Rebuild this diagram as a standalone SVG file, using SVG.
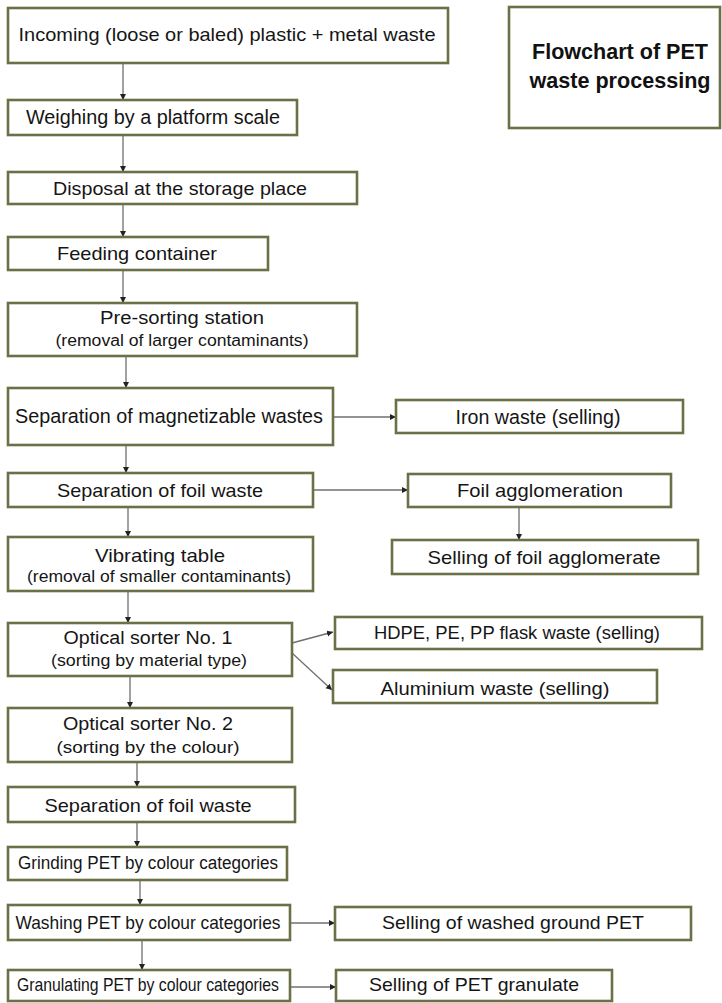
<svg xmlns="http://www.w3.org/2000/svg" width="722" height="1003" viewBox="0 0 722 1003">
  <style>
    .box { fill: #ffffff; stroke: #6c7047; stroke-width: 2.6; }
    .t { font-family: "Liberation Sans", Arial, sans-serif; font-size: 19px; fill: #151515; text-anchor: middle; }
    .big { font-size: 20.5px; }
    .sm { font-size: 18px; }
    .s { font-family: "Liberation Sans", Arial, sans-serif; font-size: 16px; fill: #151515; text-anchor: middle; }
    .title { font-family: "Liberation Sans", Arial, sans-serif; font-size: 22px; font-weight: bold; fill: #111111; text-anchor: middle; }
    .link { fill: none; stroke: #6f6f6f; stroke-width: 1.3; marker-end: url(#arrow); }
  </style>
  <defs>
    <marker id="arrow" markerUnits="userSpaceOnUse" markerWidth="7" markerHeight="7" refX="6" refY="3" orient="auto">
      <path d="M0,0 L6,3 L0,6 z" fill="#222222"/>
    </marker>
  </defs>
  <rect width="722" height="1003" fill="#ffffff"/>

  <!-- connectors -->
  <g id="connectors">
    <line class="link" x1="123" y1="63" x2="123" y2="100"/>
    <line class="link" x1="123" y1="135" x2="123" y2="172"/>
    <line class="link" x1="123" y1="204" x2="123" y2="237"/>
    <line class="link" x1="123" y1="270" x2="123" y2="303"/>
    <line class="link" x1="126" y1="356" x2="126" y2="388"/>
    <line class="link" x1="126" y1="445" x2="126" y2="473"/>
    <line class="link" x1="128" y1="507" x2="128" y2="537"/>
    <line class="link" x1="128" y1="591" x2="128" y2="623"/>
    <line class="link" x1="130" y1="676" x2="130" y2="708"/>
    <line class="link" x1="137" y1="762" x2="137" y2="787"/>
    <line class="link" x1="137" y1="822" x2="137" y2="847"/>
    <line class="link" x1="140" y1="880" x2="140" y2="905"/>
    <line class="link" x1="142" y1="940" x2="142" y2="970"/>
    <line class="link" x1="519" y1="507" x2="519" y2="540"/>
    <line class="link" x1="333" y1="417" x2="396" y2="417"/>
    <line class="link" x1="313" y1="490" x2="408" y2="490"/>
    <line class="link" x1="292" y1="643" x2="333" y2="632"/>
    <line class="link" x1="292" y1="653" x2="332" y2="690"/>
    <line class="link" x1="290" y1="923" x2="335" y2="923"/>
    <line class="link" x1="290" y1="987" x2="336" y2="987"/>
  </g>

  <!-- process steps -->
  <g id="incoming">
    <rect class="box" x="8" y="8" width="440" height="55"/>
    <text class="t" x="227" y="41" textLength="417" lengthAdjust="spacingAndGlyphs">Incoming (loose or baled) plastic + metal waste</text>
  </g>
  <g id="title">
    <rect class="box" x="509" y="7" width="211" height="121"/>
    <text class="title" x="620" y="59" textLength="176" lengthAdjust="spacingAndGlyphs">Flowchart of PET</text>
    <text class="title" x="620" y="88" textLength="181" lengthAdjust="spacingAndGlyphs">waste processing</text>
  </g>
  <g id="weighing">
    <rect class="box" x="8" y="100" width="289" height="35"/>
    <text class="t big" x="153" y="124" textLength="254" lengthAdjust="spacingAndGlyphs">Weighing by a platform scale</text>
  </g>
  <g id="disposal">
    <rect class="box" x="8" y="172" width="349" height="32"/>
    <text class="t" x="180" y="195" textLength="254" lengthAdjust="spacingAndGlyphs">Disposal at the storage place</text>
  </g>
  <g id="feeding">
    <rect class="box" x="8" y="237" width="260" height="33"/>
    <text class="t" x="137" y="260" textLength="160" lengthAdjust="spacingAndGlyphs">Feeding container</text>
  </g>
  <g id="presorting">
    <rect class="box" x="8" y="303" width="349" height="53"/>
    <text class="t sm" x="182" y="324" textLength="164" lengthAdjust="spacingAndGlyphs">Pre-sorting station</text>
    <text class="s" x="182" y="346" textLength="253" lengthAdjust="spacingAndGlyphs">(removal of larger contaminants)</text>
  </g>
  <g id="magnetic">
    <rect class="box" x="8" y="388" width="325" height="57"/>
    <text class="t big" x="169" y="423" textLength="308" lengthAdjust="spacingAndGlyphs">Separation of magnetizable wastes</text>
  </g>
  <g id="iron">
    <rect class="box" x="396" y="400" width="287" height="33"/>
    <text class="t big" x="538" y="424" textLength="165" lengthAdjust="spacingAndGlyphs">Iron waste (selling)</text>
  </g>
  <g id="foil1">
    <rect class="box" x="8" y="473" width="305" height="34"/>
    <text class="t" x="160" y="497" textLength="206" lengthAdjust="spacingAndGlyphs">Separation of foil waste</text>
  </g>
  <g id="agglomeration">
    <rect class="box" x="408" y="474" width="263" height="33"/>
    <text class="t" x="540" y="497" textLength="166" lengthAdjust="spacingAndGlyphs">Foil agglomeration</text>
  </g>
  <g id="agglomerate">
    <rect class="box" x="392" y="540" width="306" height="34"/>
    <text class="t" x="544" y="564" textLength="233" lengthAdjust="spacingAndGlyphs">Selling of foil agglomerate</text>
  </g>
  <g id="vibrating">
    <rect class="box" x="8" y="537" width="305" height="54"/>
    <text class="t" x="160" y="562" textLength="130" lengthAdjust="spacingAndGlyphs">Vibrating table</text>
    <text class="s" x="159" y="582" textLength="264" lengthAdjust="spacingAndGlyphs">(removal of smaller contaminants)</text>
  </g>
  <g id="optical1">
    <rect class="box" x="8" y="623" width="284" height="53"/>
    <text class="t sm" x="148" y="644" textLength="169" lengthAdjust="spacingAndGlyphs">Optical sorter No. 1</text>
    <text class="s" x="149" y="666" textLength="196" lengthAdjust="spacingAndGlyphs">(sorting by material type)</text>
  </g>
  <g id="hdpe">
    <rect class="box" x="335" y="617" width="367" height="32"/>
    <text class="t sm" x="517" y="639" textLength="286" lengthAdjust="spacingAndGlyphs">HDPE, PE, PP flask waste (selling)</text>
  </g>
  <g id="aluminium">
    <rect class="box" x="333" y="670" width="324" height="33"/>
    <text class="t" x="495" y="695" textLength="229" lengthAdjust="spacingAndGlyphs">Aluminium waste (selling)</text>
  </g>
  <g id="optical2">
    <rect class="box" x="8" y="708" width="284" height="54"/>
    <text class="t sm" x="148" y="730" textLength="170" lengthAdjust="spacingAndGlyphs">Optical sorter No. 2</text>
    <text class="s" x="148" y="753" textLength="183" lengthAdjust="spacingAndGlyphs">(sorting by the colour)</text>
  </g>
  <g id="foil2">
    <rect class="box" x="8" y="787" width="287" height="35"/>
    <text class="t" x="148" y="812" textLength="207" lengthAdjust="spacingAndGlyphs">Separation of foil waste</text>
  </g>
  <g id="grinding">
    <rect class="box" x="8" y="847" width="279" height="33"/>
    <text class="t sm" x="148" y="869" textLength="260" lengthAdjust="spacingAndGlyphs">Grinding PET by colour categories</text>
  </g>
  <g id="washing">
    <rect class="box" x="8" y="905" width="282" height="35"/>
    <text class="t" x="148" y="929" textLength="265" lengthAdjust="spacingAndGlyphs">Washing PET by colour categories</text>
  </g>
  <g id="washed">
    <rect class="box" x="335" y="907" width="356" height="33"/>
    <text class="t" x="513" y="929" textLength="262" lengthAdjust="spacingAndGlyphs">Selling of washed ground PET</text>
  </g>
  <g id="granulating">
    <rect class="box" x="8" y="970" width="282" height="31"/>
    <text class="t" x="148" y="991" textLength="262" lengthAdjust="spacingAndGlyphs">Granulating PET by colour categories</text>
  </g>
  <g id="granulate">
    <rect class="box" x="336" y="970" width="276" height="31"/>
    <text class="t" x="474" y="991" textLength="210" lengthAdjust="spacingAndGlyphs">Selling of PET granulate</text>
  </g>
</svg>
